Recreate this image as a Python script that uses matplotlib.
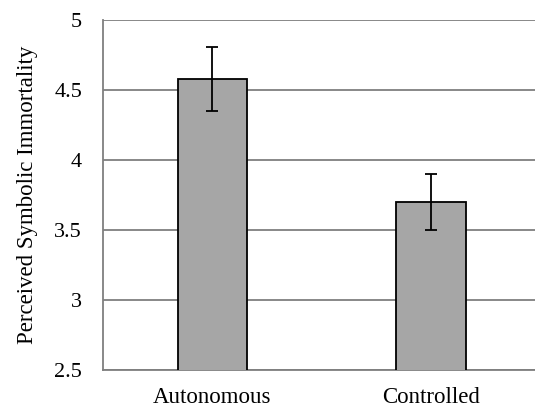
import matplotlib
matplotlib.use('Agg')
import matplotlib.pyplot as plt

# data
groups = ['Autonomous', 'Controlled']
means = [4.58, 3.70]
errLow = [0.23, 0.20]
errHigh = [0.23, 0.20]

plt.rcParams['font.family'] = ['Liberation Serif', 'DejaVu Serif']

fig = plt.figure(figsize=(5.35, 4.09), dpi=100)
ax = fig.add_axes([0.1925, 0.0954, 0.8075, 0.8557])

xs = list(range(len(groups)))
ax.bar(xs, means, width=0.316, color='#a6a6a6', edgecolor='black',
       linewidth=1.3, zorder=3)
ax.errorbar(xs, means, yerr=[errLow, errHigh], fmt='none', ecolor='black',
            elinewidth=1.3, capsize=4, capthick=1.3, zorder=4)

ax.set_ylim(2.5, 5)
ax.set_xlim(-0.501, 1.476)
ax.set_yticks([2.5, 3, 3.5, 4, 4.5, 5])
ax.set_yticklabels(['2.5', '3', '3.5', '4', '4.5', '5'])
ax.set_xticks(xs)
ax.set_xticklabels(groups)
ax.yaxis.grid(True, color='#7f7f7f', linewidth=1.3, zorder=0)
ax.set_axisbelow(True)

for s in ['top', 'right']:
    ax.spines[s].set_visible(False)
for s in ['left', 'bottom']:
    ax.spines[s].set_color('#7f7f7f')
    ax.spines[s].set_linewidth(1.3)

ax.tick_params(axis='both', length=0, labelsize=16, colors='black')
ax.tick_params(axis='y', pad=15)
ax.tick_params(axis='x', pad=12, labelsize=16.5)
ax.set_ylabel('Perceived Symbolic Immortality', fontsize=16.5, labelpad=12)

fig.savefig('out.png', dpi=100)
